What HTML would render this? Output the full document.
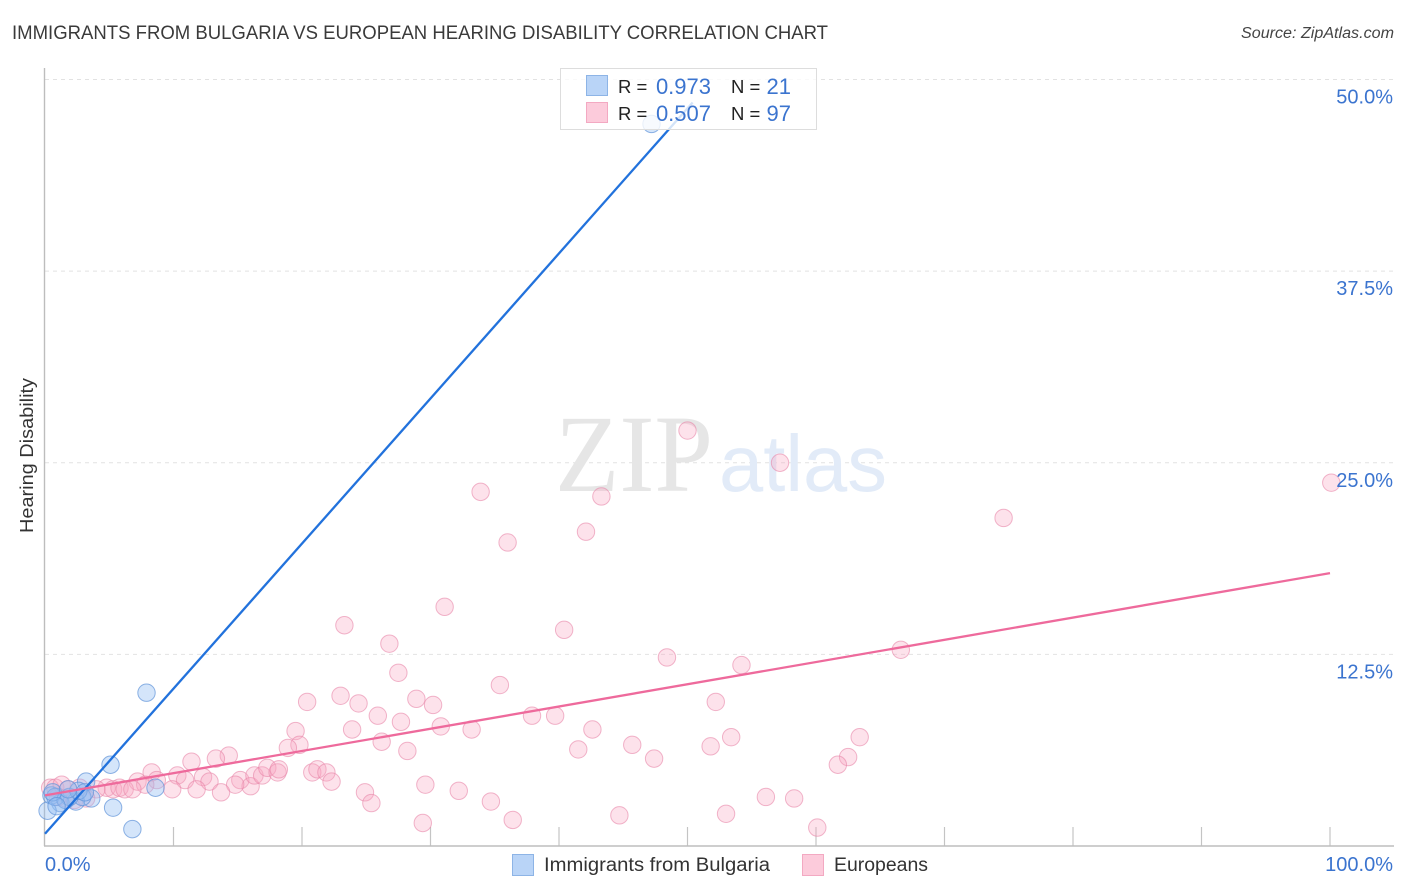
<!DOCTYPE html>
<html>
<head>
<meta charset="utf-8">
<style>
html,body{margin:0;padding:0;background:#fff;}
svg{display:block;font-family:"Liberation Sans",sans-serif;}
</style>
</head>
<body>
<svg id="chart" width="1406" height="892" viewBox="0 0 1406 892" xmlns="http://www.w3.org/2000/svg">
  <text x="12" y="39" font-size="19" fill="#3a3a3a" textLength="816" lengthAdjust="spacingAndGlyphs">IMMIGRANTS FROM BULGARIA VS EUROPEAN HEARING DISABILITY CORRELATION CHART</text>
  <text x="1241" y="38" font-size="15.5" font-style="italic" fill="#444" textLength="153" lengthAdjust="spacingAndGlyphs">Source: ZipAtlas.com</text>
  <g id="grid"></g>
  <g>
    <text x="555" y="491" font-family="'Liberation Serif',serif" font-size="110" fill="#e6e6e6" textLength="158" lengthAdjust="spacingAndGlyphs">ZIP</text>
    <text x="719" y="491" font-family="'Liberation Sans',sans-serif" font-size="80" fill="#e2ebf8" textLength="168" lengthAdjust="spacingAndGlyphs">atlas</text>
  </g>
  <g id="axes"></g>
  <g id="points"></g>
  <g id="lines"></g>
  <g id="labels"></g>
  <text transform="translate(33,533) rotate(-90)" font-size="18" fill="#333" textLength="155" lengthAdjust="spacingAndGlyphs">Hearing Disability</text>
  <g>
    <rect x="560.5" y="68.5" width="256" height="61" fill="#fff" fill-opacity="0.8" stroke="#ddd"/>
    <rect x="586.5" y="75.5" width="21" height="20" fill="#b9d4f7" stroke="#8db4e6"/>
    <rect x="586.5" y="102.5" width="21" height="20" fill="#fccbdb" stroke="#f3a9c2"/>
    <g font-size="20" fill="#222">
      <text x="618" y="93" font-size="18.5">R =</text>
      <text x="731" y="93" font-size="18.5">N =</text>
      <text x="618" y="120" font-size="18.5">R =</text>
      <text x="731" y="120" font-size="18.5">N =</text>
    </g>
    <g font-size="22" fill="#3b74cf">
      <text x="711" y="94" text-anchor="end">0.973</text>
      <text x="791" y="94" text-anchor="end">21</text>
      <text x="711" y="121" text-anchor="end">0.507</text>
      <text x="791" y="121" text-anchor="end">97</text>
    </g>
  </g>
  <g>
    <rect x="512.5" y="854.5" width="21" height="21" fill="#b9d4f7" stroke="#8db4e6"/>
    <text x="544" y="871" font-size="19" fill="#333" textLength="226" lengthAdjust="spacingAndGlyphs">Immigrants from Bulgaria</text>
    <rect x="802.5" y="854.5" width="21" height="21" fill="#fccbdb" stroke="#f3a9c2"/>
    <text x="834" y="871" font-size="19" fill="#333" textLength="94" lengthAdjust="spacingAndGlyphs">Europeans</text>
  </g>
</svg>
<script>
const yTicks = [12.5, 25, 37.5, 50];
const yTickLabels = ["12.5%", "25.0%", "37.5%", "50.0%"];
const xTicks = [10, 20, 30, 40, 50, 60, 70, 80, 90, 100];
const xEndValues = [0, 100];
const xEndLabels = ["0.0%", "100.0%"];

const bulgariaX = [47.2,7.9,5.1,6.8,5.3,8.6,3.2,3.6,2.4,2.9,1.2,0.2,0.5,0.8,1.9,1.6,0.6,2.6,3.1,0.9,1.8];
const bulgariaY = [47.1,10.0,5.3,1.1,2.5,3.8,4.2,3.1,2.9,3.2,2.8,2.3,3.3,3.2,3.2,3.0,3.5,3.6,3.5,2.6,3.7];

const europeansX = [50.0,57.2,100.1,33.9,43.3,74.6,42.1,36.0,31.1,23.3,40.4,26.8,66.6,48.4,54.2,27.5,35.4,23.0,28.9,20.4,24.4,30.2,52.2,25.9,37.9,39.7,27.7,23.9,30.8,33.2,42.6,19.5,53.4,63.4,26.2,19.8,18.9,45.7,51.8,28.2,41.5,14.3,13.3,47.4,11.4,62.5,61.7,
15.2,16.0,16.3,16.9,17.3,18.1,18.2,14.8,20.8,21.2,21.9,22.3,24.9,25.4,29.6,29.4,32.2,34.7,36.4,44.7,53.0,56.1,58.3,60.1,
8.3,8.7,10.3,10.9,12.3,12.8,9.9,11.8,13.7,7.2,7.8,4.8,5.3,5.8,6.2,6.8,4.0,0.4,0.8,1.3,1.8,2.3,2.7,3.2,1.0,1.6];
const europeansY = [27.1,25.0,23.7,23.1,22.8,21.4,20.5,19.8,15.6,14.4,14.1,13.2,12.8,12.3,11.8,11.3,10.5,9.8,9.6,9.4,9.3,9.2,9.4,8.5,8.5,8.5,8.1,7.6,7.8,7.6,7.6,7.5,7.1,7.1,6.8,6.6,6.4,6.6,6.5,6.2,6.3,5.9,5.7,5.7,5.5,5.8,5.3,
4.3,3.9,4.6,4.6,5.1,4.8,5.0,4.0,4.8,5.0,4.8,4.2,3.5,2.8,4.0,1.5,3.6,2.9,1.7,2.0,2.1,3.2,3.1,1.2,
4.8,4.3,4.6,4.3,4.5,4.2,3.7,3.7,3.5,4.2,4.0,3.8,3.7,3.8,3.7,3.7,3.7,3.8,3.8,4.0,3.7,3.0,3.8,3.1,3.2,3.1];

const bulgariaTrendX = [0, 50.4];
const bulgariaTrendY = [0.8, 48.5];
const europeansTrendX = [0, 100];
const europeansTrendY = [3.3, 17.8];

const NS = "http://www.w3.org/2000/svg";
const xScale = v => 45 + v * 12.85;
const yScale = v => 846 - v * 15.33;

function make(tag, attrs, parent) {
  const el = document.createElementNS(NS, tag);
  for (const k in attrs) el.setAttribute(k, attrs[k]);
  parent.appendChild(el);
  return el;
}

const gridG = document.getElementById("grid");
const axesG = document.getElementById("axes");
const pointsG = document.getElementById("points");
const linesG = document.getElementById("lines");
const labelsG = document.getElementById("labels");

yTicks.forEach((t, i) => {
  const line = make("line", {x1: 45, x2: 1394, y1: yScale(t), y2: yScale(t), stroke: "#e2e2e2", "stroke-dasharray": "4 4"}, gridG);
  
  
  const label = make("text", {x: 1393, y: yScale(t) + 24, "font-size": 20, fill: "#3b74cf", "text-anchor": "end"}, labelsG);
  label.textContent = yTickLabels[i];
  
  
});

xTicks.forEach(t => {
  const tick = make("line", {x1: xScale(t), x2: xScale(t), y1: 827, y2: 846, stroke: "#c4c4c4", "stroke-width": 1.2}, axesG);
  
  
});

const yAxisLine = make("line", {x1: 44.5, x2: 44.5, y1: 68, y2: 846, stroke: "#bdbdbd", "stroke-width": 1.4}, axesG);


const xAxisLine = make("line", {x1: 44, x2: 1394, y1: 846, y2: 846, stroke: "#bdbdbd", "stroke-width": 1.4}, axesG);



xEndValues.forEach((v, i) => {
  const label = make("text", {x: i === 0 ? xScale(v) : 1393, y: 871, "font-size": 20, fill: "#3b74cf", "text-anchor": i === 0 ? "start" : "end"}, labelsG);
  label.textContent = xEndLabels[i];
  
  
});

europeansX.forEach((x, i) => {
  const c = make("circle", {cx: xScale(x), cy: yScale(europeansY[i]), r: 8.7, fill: "#f8a5c2", "fill-opacity": 0.32, stroke: "#e886a8", "stroke-opacity": 0.6, "stroke-width": 1}, pointsG);
  
  
});

bulgariaX.forEach((x, i) => {
  const c = make("circle", {cx: xScale(x), cy: yScale(bulgariaY[i]), r: 8.7, fill: "#94bff2", "fill-opacity": 0.4, stroke: "#5f93d8", "stroke-opacity": 0.7, "stroke-width": 1}, pointsG);
  
  
});

const trendB = make("line", {x1: xScale(bulgariaTrendX[0]), y1: yScale(bulgariaTrendY[0]), x2: xScale(bulgariaTrendX[1]), y2: yScale(bulgariaTrendY[1]), stroke: "#2272dc", "stroke-width": 2.3}, linesG);


const trendE = make("line", {x1: xScale(europeansTrendX[0]), y1: yScale(europeansTrendY[0]), x2: xScale(europeansTrendX[1]), y2: yScale(europeansTrendY[1]), stroke: "#ee6a9c", "stroke-width": 2.3}, linesG);


</script>
</body>
</html>
